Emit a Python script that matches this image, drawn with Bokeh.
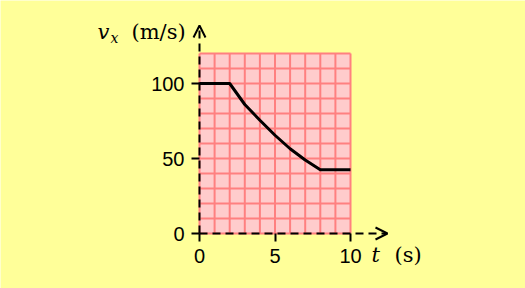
from bokeh.plotting import figure
from bokeh.models import (Range1d, LinearAxis, FixedTicker, BoxAnnotation, Arrow,
                          OpenHead, Label)
from bokeh.embed import file_html
from bokeh.resources import INLINE

# ---- data ----
t_values = [0, 2, 3, 4, 5, 6, 7, 8, 10]
vx_values = [100, 100, 86, 75.5, 65.5, 56.5, 49, 42.5, 42.5]
x_ticks = [0, 5, 10]
y_ticks = [0, 50, 100]
x_label_italic = "t"
x_label_unit = "(s)"
y_label_italic = "v"
y_label_sub = "x"
y_label_unit = "(m/s)"
t_max, v_max = 10, 120
t_step, v_step = 1, 10

# ---- layout constants ----
W, H = 525, 288
X_PX0, X_SCALE = 199, 15.1
Y_PX0, Y_SCALE = 233, 1.5
BG = "#FFFF99"
PINK = "#FFCCCC"
GRID = "#FF8080"


def dx(px):
    return (px - X_PX0) / X_SCALE


def dy(py):
    return (Y_PX0 - py) / Y_SCALE


p = figure(width=W, height=H, output_backend="svg", toolbar_location=None,
           x_range=Range1d(dx(0), dx(W)), y_range=Range1d(dy(H), dy(0)),
           x_axis_type=None, y_axis_type=None, min_border=0,
           background_fill_color=BG, border_fill_color=BG, outline_line_color=None)

# pink plot area
p.add_layout(BoxAnnotation(left=0, right=t_max, bottom=0, top=v_max,
                           fill_color=PINK, fill_alpha=1, line_color=None,
                           level="underlay"))

# grid lines
gx = list(range(0, t_max + 1, t_step))
gy = list(range(0, v_max + 1, v_step))
p.segment(x0=gx, y0=[0] * len(gx), x1=gx, y1=[v_max] * len(gx),
          line_color=GRID, line_width=2)
p.segment(x0=[0] * len(gy), y0=gy, x1=[t_max] * len(gy), y1=gy,
          line_color=GRID, line_width=2)

# curve
p.line(t_values, vx_values, line_color="black", line_width=3, line_join="round")

# dashed axes with open arrow heads
p.add_layout(Arrow(x_start=0, y_start=0, x_end=dx(387), y_end=0,
                   line_dash="8 5", line_width=2, line_color="black",
                   end=OpenHead(size=12, line_width=2, line_color="black")))
p.add_layout(Arrow(x_start=0, y_start=0, x_end=0, y_end=dy(25),
                   line_dash="8 5", line_width=2, line_color="black",
                   end=OpenHead(size=12, line_width=2, line_color="black")))

# tick axes
xa = LinearAxis(fixed_location=0, ticker=FixedTicker(ticks=x_ticks))
ya = LinearAxis(fixed_location=0, ticker=FixedTicker(ticks=y_ticks))
for ax in (xa, ya):
    ax.axis_line_color = None
    ax.major_tick_in = 0
    ax.major_tick_out = 8
    ax.major_tick_line_width = 2
    ax.major_tick_line_color = "black"
    ax.minor_tick_line_color = None
    ax.major_label_text_font = "Liberation Sans"
    ax.major_label_text_font_size = "20px"
    ax.major_label_text_color = "black"
    ax.major_label_standoff = 7
p.add_layout(xa, "below")
p.add_layout(ya, "left")

# axis titles
SERIF = "DejaVu Serif"
p.add_layout(Label(x=dx(97), y=dy(31), text=y_label_italic, text_font=SERIF,
                   text_font_style="italic", text_font_size="21px",
                   text_baseline="alphabetic", text_color="black"))
p.add_layout(Label(x=dx(110), y=dy(37), text=y_label_sub, text_font=SERIF,
                   text_font_style="italic", text_font_size="14px",
                   text_baseline="alphabetic", text_color="black"))
p.add_layout(Label(x=dx(131), y=dy(31), text=y_label_unit, text_font=SERIF,
                   text_font_size="21px", text_baseline="alphabetic",
                   text_color="black"))
p.add_layout(Label(x=dx(371), y=dy(254), text=x_label_italic, text_font=SERIF,
                   text_font_style="italic", text_font_size="21px",
                   text_baseline="alphabetic", text_color="black"))
p.add_layout(Label(x=dx(394), y=dy(254), text=x_label_unit, text_font=SERIF,
                   text_font_size="21px", text_baseline="alphabetic",
                   text_color="black"))

open("out.html", "w").write(file_html(p, INLINE))
